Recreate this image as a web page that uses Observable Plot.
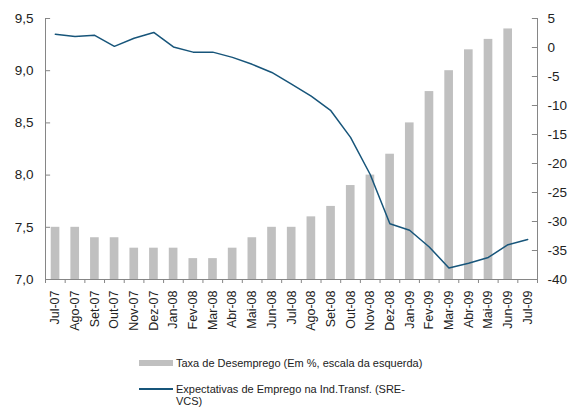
<!DOCTYPE html>
<html><head><meta charset="utf-8">
<script src="https://cdn.jsdelivr.net/npm/d3@7"></script>
<script src="https://cdn.jsdelivr.net/npm/@observablehq/plot@0.6"></script>
<style>
body{margin:0;background:#fff;font-family:"Liberation Sans",Arial,sans-serif;}
#wrap{position:relative;width:571px;height:407px;overflow:hidden;}
#legend{position:absolute;left:139px;top:0;font-size:11px;color:#222;width:432px;}
.row{position:absolute;left:0;display:flex;align-items:flex-start;}
.sw{width:34px;flex:none;margin-right:3px;}
</style></head><body>
<div id="wrap"><div id="chart"></div>
<div id="legend">
 <div class="row" style="top:357px"><div class="sw" style="height:6px;background:#c0c0c0;margin-top:3px"></div><div style="line-height:13px;white-space:nowrap">Taxa de Desemprego (Em %, escala da esquerda)</div></div>
 <div class="row" style="top:383px"><div class="sw" style="height:2px;background:#17557a;margin-top:5px"></div><div style="width:245px;line-height:12px">Expectativas de Emprego na Ind.Transf. (SRE-VCS)</div></div>
</div></div>
<script>
const months = ["Jul-07","Ago-07","Set-07","Out-07","Nov-07","Dez-07","Jan-08","Fev-08","Mar-08","Abr-08","Mai-08","Jun-08","Jul-08","Ago-08","Set-08","Out-08","Nov-08","Dez-08","Jan-09","Fev-09","Mar-09","Abr-09","Mai-09","Jun-09","Jul-09"];
const desemprego = [7.5,7.5,7.4,7.4,7.3,7.3,7.3,7.2,7.2,7.3,7.4,7.5,7.5,7.6,7.7,7.9,8.0,8.2,8.5,8.8,9.0,9.2,9.3,9.4];
const expectativas = [2.3,1.9,2.1,0.2,1.6,2.6,0.1,-0.8,-0.8,-1.7,-2.9,-4.3,-6.3,-8.4,-10.9,-15.5,-21.9,-30.4,-31.5,-34.4,-38.0,-37.2,-36.2,-34.0,-33.1];
const leftTicks = [7.0,7.5,8.0,8.5,9.0,9.5];
const rightTicks = [5,0,-5,-10,-15,-20,-25,-30,-35,-40];

const toLeft = v => 7 + (v + 40) / 45 * 2.5;
const fmt = v => v.toFixed(1).replace(".", ",");
const bars = desemprego.map((v, i) => ({i, v}));
const line = expectativas.map((v, i) => ({i, v: toLeft(v)}));
const axisCol = "#868686";
const n = months.length;
const tickLen = 0.26; // inward tick length, in band units (~5px)

const chart = Plot.plot({
  width: 571, height: 340,
  marginLeft: 45, marginRight: 34, marginTop: 18, marginBottom: 61,
  style: {fontFamily: "'Liberation Sans', Arial, sans-serif", color: "#222", background: "#fff", overflow: "visible"},
  x: {type: "linear", domain: [0, n]},
  y: {domain: [7, 9.5]},
  marks: [
    Plot.ruleY(leftTicks, {x1: 0, x2: tickLen, stroke: axisCol}),
    Plot.ruleY(rightTicks.map(toLeft), {x1: n - tickLen, x2: n, stroke: axisCol}),
    Plot.rectY(bars, {x1: d => d.i + 0.29, x2: d => d.i + 0.73, y1: 7, y2: "v", fill: "#c0c0c0"}),
    Plot.line(line, {x: d => d.i + 0.5, y: "v", stroke: "#17557a", strokeWidth: 1.5}),
    Plot.ruleX([0, n], {stroke: axisCol}),
    Plot.ruleY([7], {stroke: axisCol}),
    Plot.axisY(leftTicks, {anchor: "left", tickSize: 0, tickFormat: fmt, fontSize: 13.5, label: null, tickPadding: 12}),
    Plot.axisY(rightTicks.map(toLeft), {anchor: "right", tickSize: 0, tickFormat: (d, k) => String(rightTicks[k]), fontSize: 13.5, label: null, tickPadding: 10, textAnchor: "start"}),
    Plot.axisX(d3.range(0, n + 1), {anchor: "bottom", tickSize: 4, stroke: axisCol, tickFormat: () => "", label: null}),
    Plot.axisX(months.map((m, i) => i + 0.5), {anchor: "bottom", tickSize: 0, tickFormat: (d, k) => months[k], tickRotate: -90, tickPadding: 11, fontSize: 12.5, label: null})
  ]
});
document.getElementById("chart").appendChild(chart);
</script></body></html>
